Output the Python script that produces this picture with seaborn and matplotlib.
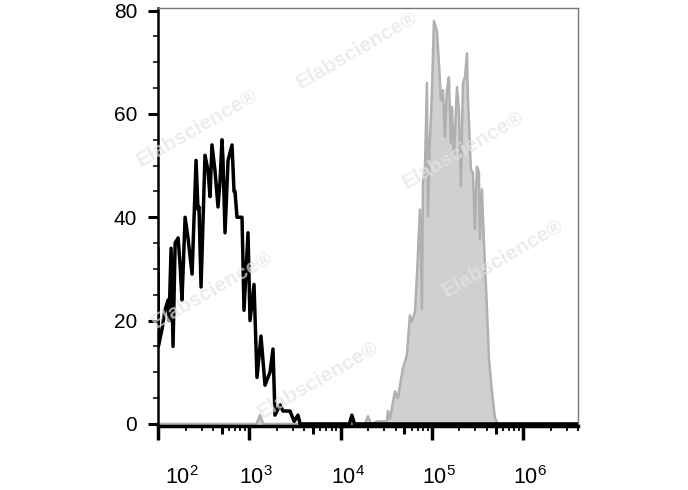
import numpy as np
import pandas as pd
import seaborn as sns
import matplotlib.pyplot as plt
from matplotlib.ticker import FixedLocator, LogLocator, NullFormatter, MultipleLocator
from matplotlib.transforms import ScaledTranslation

# black histogram (unstained / isotype) - fluorescence value, count
black_x = [100, 101, 111, 119, 129, 132, 139, 146, 154, 166, 174, 183, 198, 213, 236,
           261, 274, 281, 296, 327, 353, 371, 390, 421, 454, 478, 502, 515, 542, 585,
           647, 680, 697, 733, 832, 875, 968, 1018, 1126, 1214, 1343, 1486, 1686, 1818,
           1912, 2169, 2339, 2791, 3100, 3415, 3600, 12500, 13300, 14200, 4.0e6]
black_y = [34, 15, 18.5, 22, 24, 20, 34, 15, 35, 36, 31, 24, 40, 36, 29,
           51, 41.5, 42, 26.5, 52, 49, 44, 54, 49, 42, 47, 55, 51, 37, 51,
           54, 45, 45, 40, 40, 22, 37, 20, 27, 9, 17, 7.5, 10, 14.5,
           1.7, 3.7, 2.5, 2.5, 0.5, 1.7, 0, 0, 1.7, 0, 0]

# grey filled histogram (stained)
grey_x = [100, 1200, 1309, 1420, 18500, 19950, 21500, 25700, 32200, 33040, 34750, 39400,
          42500, 48200, 53300, 57500, 60500, 65300, 68700, 74100, 77900, 80000, 84000,
          88300, 90600, 95300, 100200, 105400, 113700, 119600, 125900, 132400, 139000,
          146200, 153800, 161800, 166000, 174600, 188400, 198200, 208400, 219300,
          230600, 242300, 248500, 267900, 281800, 296400, 311800, 328000, 336500,
          354000, 372300, 401600, 422000, 455000, 491000, 529000, 4.0e6]
grey_y = [0, 0, 1.7, 0, 0, 1.5, 0, 0.5, 0.5, 2.5, 1, 6.3,
          5, 10.8, 13.3, 21, 19.8, 21.7, 28.7, 41.5, 22.3, 46.7, 49.2,
          66, 40.2, 55, 64, 78, 76, 69.8, 62.7, 64.6, 55.6,
          64.6, 67.1, 54.4, 61.3, 51.7, 65.2, 60.8, 46, 66,
          67.1, 71.7, 63.3, 49.2, 48.7, 37.7, 49.8, 48.7, 35.8,
          45.4, 35.2, 22.3, 12.7, 6.3, 1.2, 0, 0]

x_ticks = [1e2, 1e3, 1e4, 1e5, 1e6]
x_labels = ["$10^{2}$", "$10^{3}$", "$10^{4}$", "$10^{5}$", "$10^{6}$"]
y_ticks = [0, 20, 40, 60, 80]

sns.set_style("ticks")
plt.rcParams['font.family'] = ['Liberation Sans', 'DejaVu Sans']
plt.rcParams['mathtext.default'] = 'regular'

fig = plt.figure(figsize=(6.88, 4.90), dpi=100)
ax = fig.add_axes([0.2297, 0.1306, 0.6105, 0.8531])

ax.fill_between(grey_x, grey_y, 0, color="#d0d0d0", lw=0, zorder=1)
sns.lineplot(x=grey_x, y=grey_y, ax=ax, color="#b0b0b0", lw=1.8,
             estimator=None, sort=False, zorder=2)
sns.lineplot(x=black_x, y=black_y, ax=ax, color="black", lw=2.5,
             estimator=None, sort=False, zorder=3)

ax.set_xscale("log")
ax.set_xlim(100, 4.0e6)
ax.set_ylim(-0.4, 80.5)

# medium ticks at 5 x 10^n (own axis)
sec = ax.secondary_xaxis("bottom")
sec.set_xticks([5e2, 5e3, 5e4, 5e5], ["", "", "", ""])
sec.xaxis.set_minor_locator(FixedLocator([]))
sec.tick_params(length=6, width=2.2, color="black")
sec.spines["bottom"].set_visible(False)

ax.set_xticks(x_ticks, x_labels)
ax.xaxis.set_minor_locator(LogLocator(base=10, subs=[2, 3, 4, 6, 7, 8, 9], numticks=20))
ax.xaxis.set_minor_formatter(NullFormatter())
ax.tick_params(axis="x", which="major", length=10, width=2.5, pad=19, color="black",
               labelsize=15.5, labelcolor="black")
ax.tick_params(axis="x", which="minor", length=3.6, width=1.3, color="black")

shifts = [24, 7, 7, 7, 7]
for lab, s in zip(ax.get_xticklabels(), shifts):
    lab.set_fontsize(15.5)
    lab.set_transform(lab.get_transform() + ScaledTranslation(s / 100, 0, fig.dpi_scale_trans))

ax.yaxis.set_major_locator(FixedLocator(y_ticks))
ax.yaxis.set_minor_locator(MultipleLocator(5))
ax.tick_params(axis="y", which="major", length=7, width=2.2, pad=8, labelsize=15,
               color="black", labelcolor="black")
ax.tick_params(axis="y", which="minor", length=3.6, width=1.1, color="black")

ax.spines["left"].set_linewidth(1.8)
ax.spines["left"].set_color("black")
ax.spines["bottom"].set_linewidth(2.5)
ax.spines["bottom"].set_color("black")
for side in ["top", "right"]:
    ax.spines[side].set_visible(True)
    ax.spines[side].set_linewidth(1.0)
    ax.spines[side].set_color("#777777")

ax.set_xlabel("")
ax.set_ylabel("")

# watermark
marks = [(357, 50), (197, 128), (463, 150), (212, 290), (503, 258), (318, 380)]
for px, py in marks:
    fig.text(px / 688, 1 - py / 490, "Elabscience\u00ae", fontsize=15, fontweight="bold",
             color="#e4e4e4", alpha=0.7, rotation=30, ha="center", va="center", zorder=10)

fig.savefig("out.png", dpi=100)
